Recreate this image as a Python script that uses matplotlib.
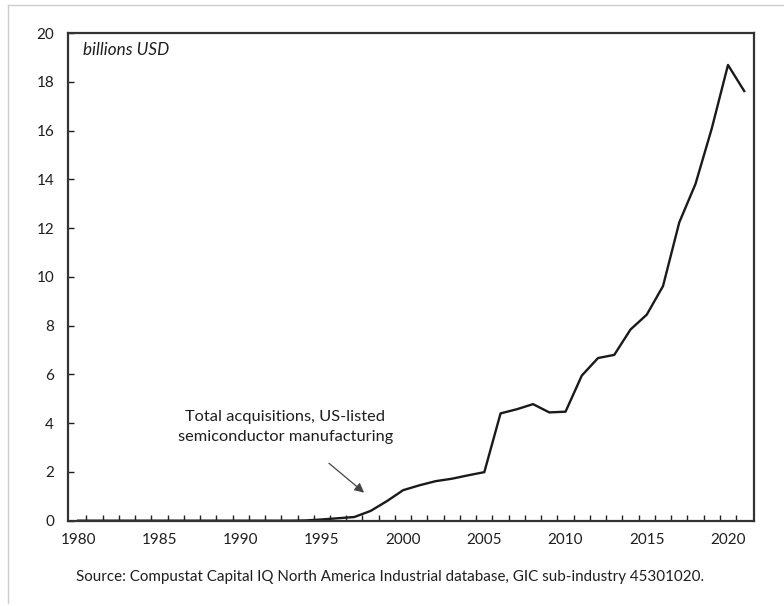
import matplotlib.pyplot as plt
import numpy as np
from matplotlib.lines import Line2D

plt.rcParams['font.family'] = ['Lato', 'DejaVu Sans']

years = list(range(1980, 2022))
acquisitions = [0.0, 0.0, 0.0, 0.0, 0.0, 0.0, 0.0, 0.0, 0.0, 0.0,
                0.0, 0.0, 0.0, 0.0, 0.01, 0.05, 0.1, 0.15, 0.4, 0.8,
                1.25, 1.45, 1.62, 1.72, 1.86, 1.99, 4.4, 4.57, 4.78, 4.44,
                4.47, 5.95, 6.67, 6.8, 7.84, 8.45, 9.62, 12.23, 13.81, 16.08,
                18.69, 17.62]
year_ticks = [1980, 1985, 1990, 1995, 2000, 2005, 2010, 2015, 2020]
value_ticks = [0, 2, 4, 6, 8, 10, 12, 14, 16, 18, 20]

fig = plt.figure(figsize=(7.84, 6.06), dpi=100)
ax = fig.add_axes([0.0867, 0.1408, 0.875, 0.8047])

ax.plot(years, acquisitions, color='#1a1a1a', linewidth=1.7)

ax.set_xlim(1979.37, 2021.6)
ax.set_ylim(0, 20)
ax.set_xticks(year_ticks)
ax.set_xticks(np.arange(1980.5, 2021, 1.0), minor=True)
ax.set_yticks(value_ticks)
ax.tick_params(axis='x', which='major', length=0, pad=9, labelsize=11, colors='#1e1e1e')
ax.tick_params(axis='x', which='minor', direction='in', length=4.5, width=1, color='#222222')
ax.tick_params(axis='y', direction='in', length=4, width=1, pad=10, labelsize=11,
               colors='#1e1e1e')
for s in ax.spines.values():
    s.set_linewidth(1.6)
    s.set_color('#333333')

ax.text(0.022, 0.965, 'billions USD', transform=ax.transAxes, style='italic',
        fontsize=12.3, ha='left', va='center', color='#1e1e1e')

ax.annotate('Total acquisitions, US-listed\nsemiconductor manufacturing',
            xy=(1997.6, 1.15), xytext=(1992.75, 3.85),
            ha='center', va='center', fontsize=11.8, color='#1e1e1e',
            linespacing=1.5,
            arrowprops=dict(arrowstyle='-|>', color='#444444', lw=0.9,
                            mutation_scale=14, shrinkA=19, shrinkB=0))

fig.text(0.497, 0.048,
         'Source: Compustat Capital IQ North America Industrial database, GIC sub-industry 45301020.',
         ha='center', va='center', fontsize=10.9, color='#1e1e1e')

# light grey border of the original image
fig.add_artist(Line2D([0.01, 1.0], [0.992, 0.992], transform=fig.transFigure,
                      color='#cccccc', linewidth=1))
fig.add_artist(Line2D([0.0102, 0.0102], [0.005, 0.992], transform=fig.transFigure,
                      color='#cccccc', linewidth=1))

fig.savefig('out.png', dpi=100)
